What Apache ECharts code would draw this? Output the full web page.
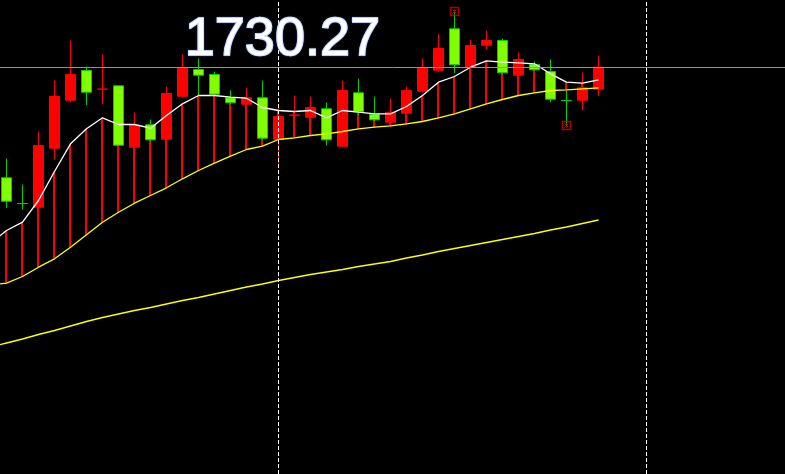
<!DOCTYPE html>
<html>
<head>
<meta charset="utf-8">
<style>
html,body{margin:0;padding:0;background:#000;}
#chart{width:785px;height:474px;}
</style>
<script src="https://cdn.jsdelivr.net/npm/echarts@6/dist/echarts.min.js"></script>
</head>
<body>
<div id="chart"></div>
<script>
// Candles (index 0..37)
const opens  = [1619.7,1594.0,1590.3,1649.3,1697.3,1727.0,1708.3,1711.7,1650.3,1672.7,1658.3,1701.3,1728.0,1723.0,1699.7,1693.3,1699.7,1658.0,1682.3,1680.3,1688.7,1651.3,1704.7,1683.0,1675.3,1684.3,1706.3,1727.3,1768.7,1730.3,1752.3,1757.0,1722.3,1733.0,1726.0,1697.0,1697.3,1708.3];
const closes = [1596.3,1593.9,1652.0,1701.0,1723.0,1705.3,1708.4,1652.3,1672.3,1657.7,1704.0,1730.0,1722.3,1703.3,1694.7,1699.7,1659.3,1681.0,1682.4,1690.0,1657.7,1707.0,1685.7,1677.7,1685.0,1707.0,1730.0,1749.0,1732.7,1752.0,1757.0,1724.7,1738.0,1727.7,1698.3,1696.9,1709.7,1730.27];
const lows   = [1589.7,1587.7,1589.0,1638.0,1695.3,1692.3,1693.3,1652.0,1649.0,1656.0,1657.0,1700.0,1702.0,1702.0,1693.0,1692.0,1657.0,1634.3,1672.0,1679.0,1652.0,1651.0,1682.0,1676.0,1670.3,1672.7,1705.0,1726.0,1724.3,1729.0,1748.0,1723.0,1720.0,1727.0,1695.3,1672.0,1687.3,1701.3];
const highs  = [1639.0,1613.0,1666.0,1717.0,1757.0,1731.0,1743.0,1712.0,1685.0,1678.0,1711.0,1743.0,1739.0,1725.7,1707.0,1709.7,1717.0,1691.0,1702.0,1701.0,1695.0,1717.0,1719.0,1701.0,1699.0,1711.0,1739.0,1763.3,1786.0,1757.7,1767.0,1759.0,1745.0,1736.0,1738.0,1707.0,1725.0,1742.0];

// Moving averages (first value belongs to the bar just left of the view)
const ma5  = [1554.0,1567.0,1575.3,1597.0,1626.0,1653.7,1668.7,1679.7,1673.0,1673.0,1669.3,1682.0,1693.7,1702.0,1702.0,1700.3,1699.3,1690.0,1687.0,1686.0,1687.0,1679.7,1687.0,1685.3,1683.7,1683.7,1691.0,1702.0,1715.3,1721.0,1730.3,1736.7,1735.3,1734.7,1733.7,1723.7,1715.3,1714.3,1717.7];
const ma10 = [1512.5,1514.3,1521.0,1530.3,1538.7,1550.3,1562.7,1575.3,1585.3,1594.3,1602.0,1609.7,1618.7,1627.0,1634.3,1641.3,1648.0,1651.3,1658.0,1659.7,1662.0,1663.7,1666.0,1668.7,1670.3,1671.7,1673.7,1676.0,1679.7,1683.7,1688.7,1693.7,1698.0,1702.0,1704.7,1707.0,1707.7,1708.7,1709.7];
const ma60 = [1450.5,1454.5,1458.5,1463.0,1467.0,1471.5,1476.0,1480.0,1483.5,1487.0,1490.0,1493.5,1497.0,1500.0,1503.5,1507.0,1510.5,1513.5,1517.0,1520.0,1523.0,1525.5,1528.0,1531.0,1533.5,1536.0,1539.5,1542.5,1546.0,1549.0,1552.0,1555.0,1558.0,1561.0,1564.0,1567.5,1570.5,1574.0,1577.5];

const lastPrice = 1730.27;
const highMarkIndex = 28;
const lowMarkIndex = 35;
const dashedAt = ['17', '40'];

// categories: one hidden bar before the view, 38 bars, then empty slots
const categories = Array.from({length: 51}, (_, k) => String(k - 1));

const candleData = ['-'].concat(opens.map((o, i) => [o, closes[i], lows[i], highs[i]]));
const barData = ma5.map((v, k) => [k, v, ma10[k]]);
const hiMark = [[highMarkIndex + 1, highs[highMarkIndex]]];
const loMark = [[lowMarkIndex + 1, lows[lowMarkIndex]]];

const chart = echarts.init(document.getElementById('chart'), null, {renderer: 'canvas'});
chart.setOption({
  backgroundColor: '#000',
  animation: false,
  grid: {left: -17.5, top: 0, width: 816, height: 474, outerBoundsMode: 'none', containLabel: false},
  xAxis: {type: 'category', data: categories, boundaryGap: true, show: false},
  yAxis: {type: 'value', min: 1323.5, max: 1797.5, show: false, splitLine: {show: false}},
  graphic: [{
    type: 'text', left: 184, top: 12, z: 100,
    style: {text: lastPrice.toFixed(2), fill: '#fff', font: '54px "Liberation Sans", Arial, sans-serif',
      stroke: '#fff', lineWidth: 1.6,
      textShadowColor: 'rgba(80,120,255,0.9)', textShadowBlur: 1.5}
  }],
  series: [
    {
      type: 'custom', z: 1, silent: true,
      data: barData,
      renderItem: function (params, api) {
        const p1 = api.coord([api.value(0), api.value(1)]);
        const p2 = api.coord([api.value(0), api.value(2)]);
        const up = api.value(1) >= api.value(2);
        return {type: 'rect', shape: {x: Math.floor(p1[0]) - 1, y: Math.min(p1[1], p2[1]), width: 2, height: Math.abs(p2[1] - p1[1])},
          style: {fill: up ? '#ff0000' : '#00d800'}};
      }
    },
    {
      type: 'candlestick', z: 2, silent: true,
      data: candleData,
      barWidth: 10,
      itemStyle: {color: '#ff0000', color0: '#7fff00', borderColor: '#ff0000', borderColor0: '#00d000', borderWidth: 1}
    },
    {type: 'line', z: 3, data: ma5, showSymbol: false, silent: true, lineStyle: {color: '#ffffff', width: 1.3}},
    {type: 'line', z: 3, data: ma10, showSymbol: false, silent: true, lineStyle: {color: '#ffff00', width: 1.3}},
    {type: 'line', z: 3, data: ma60, showSymbol: false, silent: true, lineStyle: {color: '#ffff00', width: 1.3},
      markLine: {
        silent: true, symbol: ['none', 'none'], label: {show: false}, animation: false,
        data: [
          {xAxis: dashedAt[0], lineStyle: {color: '#ffffff', type: [4, 2], width: 1}},
          {xAxis: dashedAt[1], lineStyle: {color: '#ffffff', type: [4, 2], width: 1}},
          {yAxis: lastPrice, lineStyle: {color: '#8a94a8', type: 'solid', width: 1}}
        ]
      }
    },
    {type: 'scatter', z: 5, silent: true, data: hiMark.concat(loMark), symbol: 'rect', symbolSize: 8,
      itemStyle: {color: 'rgba(0,0,0,0)', borderColor: '#d80000', borderWidth: 1.5}},
    {type: 'scatter', z: 6, silent: true, data: hiMark.concat(loMark), symbol: 'path://M0,0L10,10M10,0L0,10M5,0L5,10', symbolSize: 4,
      itemStyle: {color: 'rgba(0,0,0,0)', borderColor: '#d80000', borderWidth: 1}}
  ]
});
</script>
</body>
</html>
